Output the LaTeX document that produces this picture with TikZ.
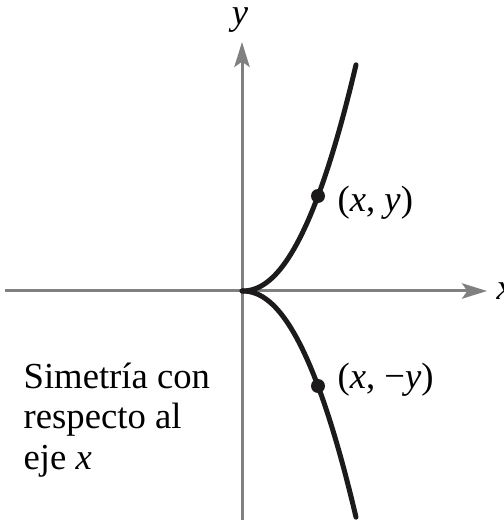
\documentclass[tikz,border=0pt]{standalone}
\usepackage{fontspec}
\setmainfont{Liberation Serif}
\usepackage{xcolor}
\usetikzlibrary{arrows.meta,positioning}
\definecolor{axisgray}{RGB}{128,128,128}
\definecolor{ink}{RGB}{28,26,26}

\begin{document}
\begin{tikzpicture}[x=0.3pt,y=0.3pt,
    axis/.style={axisgray, line width=0.9pt, -{Stealth[length=7.5pt,width=4.6pt,inset=1.6pt]}},
    curve/.style={ink, line width=1.5pt, line cap=round},
    lbl/.style={font=\fontsize{11}{12.2}\selectfont, inner sep=0pt}]
  \useasboundingbox (0,0) rectangle (503,520);
  % axes
  \coordinate (O) at (242,229);
  \coordinate (xl) at (5,229);
  \coordinate (xr) at (487,229);
  \coordinate (yb) at (242,-2);
  \coordinate (yt) at (242,478);
  \draw[axis] (xl) -- (xr);
  \draw[axis] (yb) -- (yt);
  \node[lbl, anchor=west] (xlab) at (496,229) {\textit{x}};
  \node[lbl] (ylab) at (240,500) {\textit{y}};
  % curve, both halves
  \draw[curve] (O) -- plot[domain=0.5:114, samples=60] ({242+\x},{229+95*pow(\x/76,2.14)});
  \draw[curve] (O) -- plot[domain=0.5:114, samples=60] ({242+\x},{229-95*pow(\x/76,2.14)});
  % points
  \coordinate (P) at (318,324);
  \coordinate (Q) at (318,134);
  \fill[ink] (P) circle (7);
  \fill[ink] (Q) circle (7);
  \node[lbl, anchor=west] (plab) at (337,317) {(\textit{x}, \textit{y})};
  \node[lbl, anchor=west] (qlab) at (337,140) {(\textit{x}, −\textit{y})};
  % caption
  \node[lbl, anchor=north west, align=left] (cap) at (23,158)
    {Simetría con\\respecto al\\eje \textit{x}};
\end{tikzpicture}
\end{document}
